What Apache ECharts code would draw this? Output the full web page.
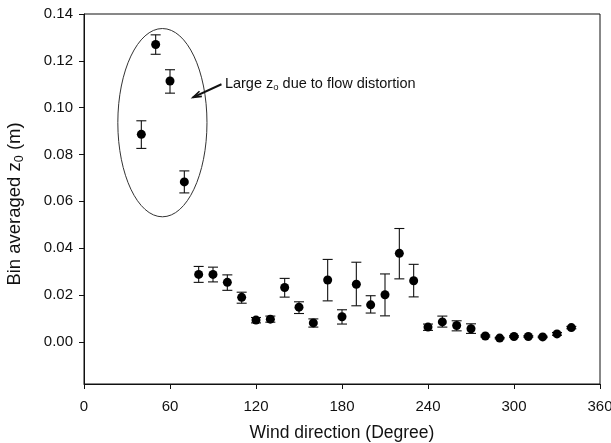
<!DOCTYPE html>
<html>
<head>
<meta charset="utf-8">
<script src="https://cdn.jsdelivr.net/npm/echarts@6/dist/echarts.min.js"></script>
<style>
  html, body { margin: 0; padding: 0; background: #fff; }
  #chart { width: 611px; height: 443px; }
</style>
</head>
<body>
<div id="chart"></div>
<script>
// Bin-averaged roughness length z0 per 10-degree wind-direction bin
const directions = [40, 50, 60, 70, 80, 90, 100, 110, 120, 130, 140, 150, 160, 170, 180, 190,
                    200, 210, 220, 230, 240, 250, 260, 270, 280, 290, 300, 310, 320, 330, 340];
const z0Mean  = [0.0886, 0.1270, 0.1114, 0.0683, 0.0288, 0.0288, 0.0254, 0.0190, 0.0093, 0.0097,
                 0.0232, 0.0148, 0.0081, 0.0264, 0.0107, 0.0246, 0.0158, 0.0201, 0.0378, 0.0261,
                 0.0063, 0.0085, 0.0070, 0.0056, 0.0025, 0.0016, 0.0023, 0.0023, 0.0021, 0.0034, 0.0061];
const z0Upper = [0.0944, 0.1311, 0.1162, 0.0730, 0.0322, 0.0319, 0.0286, 0.0212, 0.0104, 0.0110,
                 0.0271, 0.0171, 0.0098, 0.0352, 0.0137, 0.0340, 0.0197, 0.0290, 0.0484, 0.0331,
                 0.0076, 0.0110, 0.0090, 0.0077, 0.0029, 0.0019, 0.0026, 0.0026, 0.0024, 0.0040, 0.0066];
const z0Lower = [0.0826, 0.1228, 0.1062, 0.0636, 0.0254, 0.0256, 0.0220, 0.0165, 0.0081, 0.0084,
                 0.0191, 0.0121, 0.0063, 0.0175, 0.0076, 0.0154, 0.0123, 0.0111, 0.0269, 0.0192,
                 0.0049, 0.0063, 0.0047, 0.0036, 0.0021, 0.0013, 0.0020, 0.0020, 0.0018, 0.0028, 0.0056];

const yTickValues = [0, 0.02, 0.04, 0.06, 0.08, 0.10, 0.12, 0.14];

// Annotation geometry in data units (direction, z0)
const ellipseCenter = [54.7, 0.0936];
const ellipseRadius = [31.1, 0.0402];
const arrowTail = [95.9, 0.1100];
const arrowHead = [76.0, 0.1044];
const noteAnchor = [98.3, 0.1102];

const FONT = '"Liberation Sans", Arial, sans-serif';
const INK = '#111';

const chart = echarts.init(document.getElementById('chart'), null, { renderer: 'canvas' });

const scatterData = directions.map((d, i) => [d, z0Mean[i]]);
const errorData = directions.map((d, i) => [d, z0Lower[i], z0Upper[i]]);

chart.setOption({
  animation: false,
  backgroundColor: '#fff',
  grid: {
    left: 84, right: 11, top: 14, bottom: 59,
    outerBoundsMode: 'none', containLabel: false,
    show: true, borderColor: INK, borderWidth: 1, backgroundColor: 'transparent'
  },
  xAxis: {
    type: 'value', min: 0, max: 360, interval: 60,
    name: 'Wind direction (Degree)', nameLocation: 'middle', nameGap: 40,
    nameTextStyle: { fontFamily: FONT, fontSize: 17.5, color: INK },
    axisLine: { show: true, onZero: false, lineStyle: { color: INK, width: 1 } },
    axisTick: { show: true, inside: false, length: 5, lineStyle: { color: INK } },
    axisLabel: { fontFamily: FONT, fontSize: 15, color: INK, margin: 15 },
    splitLine: { show: false }
  },
  yAxis: {
    type: 'value', min: -0.018, max: 0.14,
    name: 'Bin averaged z{sub|0} (m)', nameLocation: 'middle', nameGap: 58, nameRotate: 90,
    nameTextStyle: {
      fontFamily: FONT, fontSize: 18.5, color: INK, padding: [0, 10, 0, 0],
      rich: { sub: { fontFamily: FONT, fontSize: 12.5, color: INK, padding: [10, 0, 0, 0] } }
    },
    axisLine: { show: true, onZero: false, lineStyle: { color: INK, width: 1 } },
    axisTick: { show: true, inside: false, length: 5, customValues: yTickValues, lineStyle: { color: INK } },
    axisLabel: {
      fontFamily: FONT, fontSize: 15, color: INK, margin: 11,
      customValues: yTickValues,
      formatter: v => v.toFixed(2)
    },
    splitLine: { show: false }
  },
  series: [
    {
      type: 'custom',
      data: errorData,
      z: 2,
      renderItem: (params, api) => {
        const x = api.value(0);
        const lo = api.coord([x, api.value(1)]);
        const hi = api.coord([x, api.value(2)]);
        const half = 5;
        const style = { stroke: INK, lineWidth: 1.1, fill: null };
        return {
          type: 'group',
          children: [
            { type: 'line', shape: { x1: lo[0], y1: lo[1], x2: hi[0], y2: hi[1] }, style },
            { type: 'line', shape: { x1: hi[0] - half, y1: hi[1], x2: hi[0] + half, y2: hi[1] }, style },
            { type: 'line', shape: { x1: lo[0] - half, y1: lo[1], x2: lo[0] + half, y2: lo[1] }, style }
          ]
        };
      }
    },
    {
      type: 'scatter',
      data: scatterData,
      symbol: 'circle',
      symbolSize: 9,
      z: 3,
      itemStyle: { color: '#000', opacity: 1 }
    }
  ]
});

// Annotation: ellipse around the flow-distorted bins, arrow and note
const c = chart.convertToPixel({ gridIndex: 0 }, ellipseCenter);
const ex = chart.convertToPixel({ gridIndex: 0 }, [ellipseCenter[0] + ellipseRadius[0], ellipseCenter[1] + ellipseRadius[1]]);
const tail = chart.convertToPixel({ gridIndex: 0 }, arrowTail);
const head = chart.convertToPixel({ gridIndex: 0 }, arrowHead);
const note = chart.convertToPixel({ gridIndex: 0 }, noteAnchor);

const ang = Math.atan2(head[1] - tail[1], head[0] - tail[0]);
const hl = 9, hw = 0.32;
const p1 = [head[0] - hl * Math.cos(ang - hw), head[1] - hl * Math.sin(ang - hw)];
const p2 = [head[0] - hl * Math.cos(ang + hw), head[1] - hl * Math.sin(ang + hw)];

chart.setOption({
  graphic: [
    {
      type: 'ellipse', z: 10,
      shape: { cx: c[0], cy: c[1], rx: ex[0] - c[0], ry: c[1] - ex[1] },
      style: { fill: null, stroke: '#333', lineWidth: 1 }
    },
    {
      type: 'line', z: 10,
      shape: { x1: tail[0], y1: tail[1], x2: head[0], y2: head[1] },
      style: { stroke: INK, lineWidth: 2 }
    },
    {
      type: 'polyline', z: 10,
      shape: { points: [p1, head, p2] },
      style: { stroke: INK, lineWidth: 1.6, fill: null }
    },
    {
      type: 'text', z: 10,
      x: note[0], y: note[1],
      style: {
        text: 'Large z{sub|o} due to flow distortion',
        fontFamily: FONT, fontSize: 14.5, fill: INK,
        verticalAlign: 'middle', align: 'left',
        rich: { sub: { fontFamily: FONT, fontSize: 9.5, fill: INK, padding: [8, 0, 0, 0] } }
      }
    }
  ]
});
</script>
</body>
</html>
